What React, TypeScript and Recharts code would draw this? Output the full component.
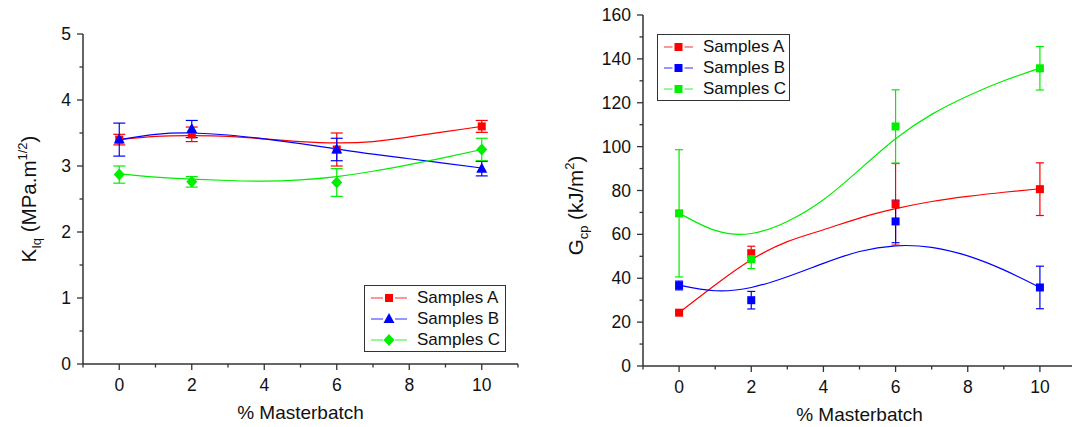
import React from "react";
import { ComposedChart, Line, Scatter, ErrorBar, XAxis, YAxis, Legend } from "recharts";

// measured compositions (% masterbatch)
const masterbatch = [0, 2, 6, 10];
const fitX = [0, 1, 2, 3, 4, 5, 6, 7, 8, 9, 10];

// K_Iq (MPa.m^1/2)
const kA = [3.4, 3.48, 3.25, 3.6];
const kAErr = [0.08, 0.11, 0.25, 0.09];
const kB = [3.4, 3.56, 3.25, 2.96];
const kBErr = [0.25, 0.13, 0.17, 0.11];
const kC = [2.87, 2.76, 2.75, 3.25];
const kCErr = [0.13, 0.08, 0.21, 0.17];
const kAFit = [3.4, 3.45, 3.46, 3.45, 3.41, 3.37, 3.35, 3.37, 3.44, 3.52, 3.6];
const kBFit = [3.4, 3.48, 3.5, 3.47, 3.41, 3.34, 3.26, 3.18, 3.11, 3.04, 2.97];
const kCFit = [2.88, 2.83, 2.8, 2.78, 2.77, 2.79, 2.84, 2.92, 3.02, 3.13, 3.25];

// G_cp (kJ/m^2)
const gA = [24.3, 51.3, 73.7, 80.6];
const gAErr = [0.5, 3.3, 18.6, 12];
const gB = [36.7, 30, 65.9, 35.8];
const gBErr = [2, 4, 9.7, 9.7];
const gC = [69.6, 48.7, 109.2, 135.7];
const gCErr = [29, 4.3, 16.7, 9.9];
const gAFit = [24.3, 36.9, 48.4, 56.7, 62.1, 67.4, 71.7, 75.0, 77.3, 79.2, 80.8];
const gBFit = [36.9, 34.3, 35.8, 40.7, 46.8, 52.2, 54.8, 54.1, 50.2, 43.8, 35.8];
const gCFit = [69.7, 61.8, 60.4, 65.9, 75.8, 89.5, 103.6, 114.7, 123.1, 130.0, 135.8];

const seriesNames = ["Samples A", "Samples B", "Samples C"];
const RED = "#ff0000";
const BLUE = "#0000ff";
const GREEN = "#00ee00";
const AXIS = "#333";
const FONT = "'Liberation Sans', Arial, sans-serif";

const xTicks = [-1, 0, 1, 2, 3, 4, 5, 6, 7, 8, 9, 10, 11];
const kTicks = [0, 0.5, 1, 1.5, 2, 2.5, 3, 3.5, 4, 4.5, 5];
const gTicks = [0, 10, 20, 30, 40, 50, 60, 70, 80, 90, 100, 110, 120, 130, 140, 150, 160];

const pts = (ys: number[], errs: number[]) => masterbatch.map((x, i) => ({ x, y: ys[i], err: errs[i] }));
const fit = (ys: number[]) => fitX.map((x, i) => ({ x, y: ys[i] }));

type Mark = "square" | "triangle" | "diamond";

function marker(kind: Mark, color: string, cx: number, cy: number) {
  if (kind === "triangle") {
    return <polygon points={`${cx},${cy - 6} ${cx - 5.5},${cy + 4} ${cx + 5.5},${cy + 4}`} fill={color} />;
  }
  if (kind === "diamond") {
    return <polygon points={`${cx},${cy - 6} ${cx + 5.5},${cy} ${cx},${cy + 6} ${cx - 5.5},${cy}`} fill={color} />;
  }
  return <rect x={cx - 4} y={cy - 4} width={8} height={8} fill={color} />;
}

const shapeOf = (kind: Mark, color: string) => (p: any) => marker(kind, color, p.cx, p.cy);

// tick drawn by hand so minor ticks can be shorter and unlabelled
function makeTick(side: "bottom" | "left" | "top" | "right", isMajor: (v: number) => boolean, label: boolean) {
  return (p: any) => {
    const v = p.payload.value;
    const len = isMajor(v) ? 6 : 3.5;
    const { x, y } = p;
    const line =
      side === "bottom" ? <line x1={x} y1={y} x2={x} y2={y + len} /> :
      side === "top" ? <line x1={x} y1={y} x2={x} y2={y - len} /> :
      side === "left" ? <line x1={x} y1={y} x2={x - len} y2={y} /> :
      <line x1={x} y1={y} x2={x + len} y2={y} />;
    return (
      <g stroke={AXIS} strokeWidth={1.3}>
        {line}
        {label && isMajor(v) && side === "bottom" && (
          <text x={x} y={y + 27} textAnchor="middle" fill="#111" stroke="none" fontSize={17.5} fontFamily={FONT}>{v}</text>
        )}
        {label && isMajor(v) && side === "left" && (
          <text x={x - 12} y={y + 6} textAnchor="end" fill="#111" stroke="none" fontSize={17.5} fontFamily={FONT}>{v}</text>
        )}
      </g>
    );
  };
}

const evenMajor = (v: number) => v % 2 === 0;

function LegendBox({ items, width, top, left, textX }: any) {
  const mid = (textX - 4) / 2;
  return (
    <div
      style={{
        position: "absolute", left, top, width, border: `1.3px solid ${AXIS}`, background: "#fff",
        fontFamily: FONT, fontSize: 17, color: "#111", padding: "1px 0", boxSizing: "border-box",
      }}
    >
      {items.map((it: any) => (
        <div key={it.name} style={{ display: "flex", alignItems: "center", height: 21 }}>
          <svg width={textX} height={16} style={{ flex: "none" }}>
            <line x1={6} y1={8} x2={mid - 6} y2={8} stroke={it.color} strokeOpacity={0.55} strokeWidth={1.5} />
            <line x1={mid + 6} y1={8} x2={textX - 10} y2={8} stroke={it.color} strokeOpacity={0.55} strokeWidth={1.5} />
            {marker(it.mark, it.color, mid, 8)}
          </svg>
          <span>{it.name}</span>
        </div>
      ))}
    </div>
  );
}

function Panel(props: any) {
  const { width, height, margin, yWidth, yDomain, yTicks, yMajor, series, legend, yLabel, capWidth } = props;
  return (
    <ComposedChart width={width} height={height} margin={margin} style={{ position: "absolute", left: props.left, top: 0 }}>
      <XAxis
        dataKey="x" type="number" domain={[-1, 11]} ticks={xTicks} interval={0} allowDataOverflow
        height={40} tickSize={0} tickMargin={0} tickLine={false}
        axisLine={{ stroke: AXIS, strokeWidth: 1.5 }}
        tick={makeTick("bottom", evenMajor, true)}
        label={(lp: any) => {
          const vb = lp.viewBox;
          return (
            <text x={vb.x + vb.width / 2} y={vb.y + 55} textAnchor="middle" fontSize={19} fontFamily={FONT} fill="#111">
              % Masterbatch
            </text>
          );
        }}
      />
      <XAxis
        xAxisId="top" orientation="top" dataKey="x" type="number" domain={[-1, 11]} ticks={xTicks} interval={0}
        height={0} tickSize={0} tickMargin={0} tickLine={false}
        axisLine={{ stroke: AXIS, strokeWidth: 1.5 }}
        tick={makeTick("top", evenMajor, false)}
      />
      <YAxis
        type="number" domain={yDomain} ticks={yTicks} interval={0} width={yWidth}
        tickSize={0} tickMargin={0} tickLine={false}
        axisLine={{ stroke: AXIS, strokeWidth: 1.5 }}
        tick={makeTick("left", yMajor, true)}
        label={(lp: any) => {
          const vb = lp.viewBox;
          const cx = vb.x + vb.width - yLabel.dx;
          const cy = vb.y + vb.height / 2 + yLabel.dy;
          return (
            <text x={cx} y={cy} transform={`rotate(-90, ${cx}, ${cy})`} textAnchor="middle" fontSize={20.5} fontFamily={FONT} fill="#111">
              <tspan>{yLabel.main}</tspan>
              <tspan fontSize={13} dy={5}>{yLabel.sub}</tspan>
              <tspan dy={-5}>{yLabel.mid}</tspan>
              <tspan fontSize={13} dy={-9}>{yLabel.sup}</tspan>
              <tspan dy={9}>)</tspan>
            </text>
          );
        }}
      />
      <YAxis
        yAxisId="right" orientation="right" type="number" domain={yDomain} ticks={yTicks} interval={0} width={0}
        tickSize={0} tickMargin={0} tickLine={false}
        axisLine={{ stroke: AXIS, strokeWidth: 1.5 }}
        tick={makeTick("right", yMajor, false)}
      />
      {series.map((s: any) => (
        <Line
          key={`fit-${s.name}`} data={s.fit} dataKey="y" type="natural" stroke={s.color} strokeWidth={1.2}
          dot={false} activeDot={false} isAnimationActive={false} legendType="none"
        />
      ))}
      {series.map((s: any) => (
        <Scatter key={s.name} name={s.name} data={s.points} dataKey="y" fill={s.color} shape={shapeOf(s.mark, s.color)} isAnimationActive={false}>
          <ErrorBar dataKey="err" direction="y" width={capWidth} stroke={s.color} strokeWidth={1.2} />
        </Scatter>
      ))}
      <Legend
        layout="vertical" align="center" verticalAlign="middle"
        wrapperStyle={{ left: 0, top: 0, width: 0, height: 0 }}
        content={() => <LegendBox {...legend} items={series} />}
      />
    </ComposedChart>
  );
}

export default function App() {
  const kSeries = [
    { name: seriesNames[0], color: RED, mark: "square", points: pts(kA, kAErr), fit: fit(kAFit) },
    { name: seriesNames[1], color: BLUE, mark: "triangle", points: pts(kB, kBErr), fit: fit(kBFit) },
    { name: seriesNames[2], color: GREEN, mark: "diamond", points: pts(kC, kCErr), fit: fit(kCFit) },
  ];
  const gSeries = [
    { name: seriesNames[0], color: RED, mark: "square", points: pts(gA, gAErr), fit: fit(gAFit) },
    { name: seriesNames[1], color: BLUE, mark: "square", points: pts(gB, gBErr), fit: fit(gBFit) },
    { name: seriesNames[2], color: GREEN, mark: "square", points: pts(gC, gCErr), fit: fit(gCFit) },
  ];
  return (
    <div style={{ position: "fixed", left: 0, top: 0, width: 1072, height: 427, overflow: "hidden", background: "#fff" }}>
      <Panel
        left={0} width={540} height={427}
        margin={{ top: 34, right: 22, bottom: 23, left: 33 }}
        yWidth={50} yDomain={[0, 5]} yTicks={kTicks} yMajor={(v: number) => Number.isInteger(v)}
        series={kSeries} capWidth={6}
        yLabel={{ main: "K", sub: "Iq", mid: " (MPa.m", sup: "1/2", dx: 47, dy: 0 }}
        legend={{ left: 364, top: 285, width: 142, textX: 52 }}
      />
      <Panel
        left={540} width={560} height={427}
        margin={{ top: 15, right: 24, bottom: 21, left: 53 }}
        yWidth={50} yDomain={[0, 160]} yTicks={gTicks} yMajor={(v: number) => v % 20 === 0}
        series={gSeries} capWidth={4}
        yLabel={{ main: "G", sub: "cp", mid: " (kJ/m", sup: "2", dx: 60, dy: 15 }}
        legend={{ left: 117, top: 34, width: 133, textX: 45 }}
      />
    </div>
  );
}
